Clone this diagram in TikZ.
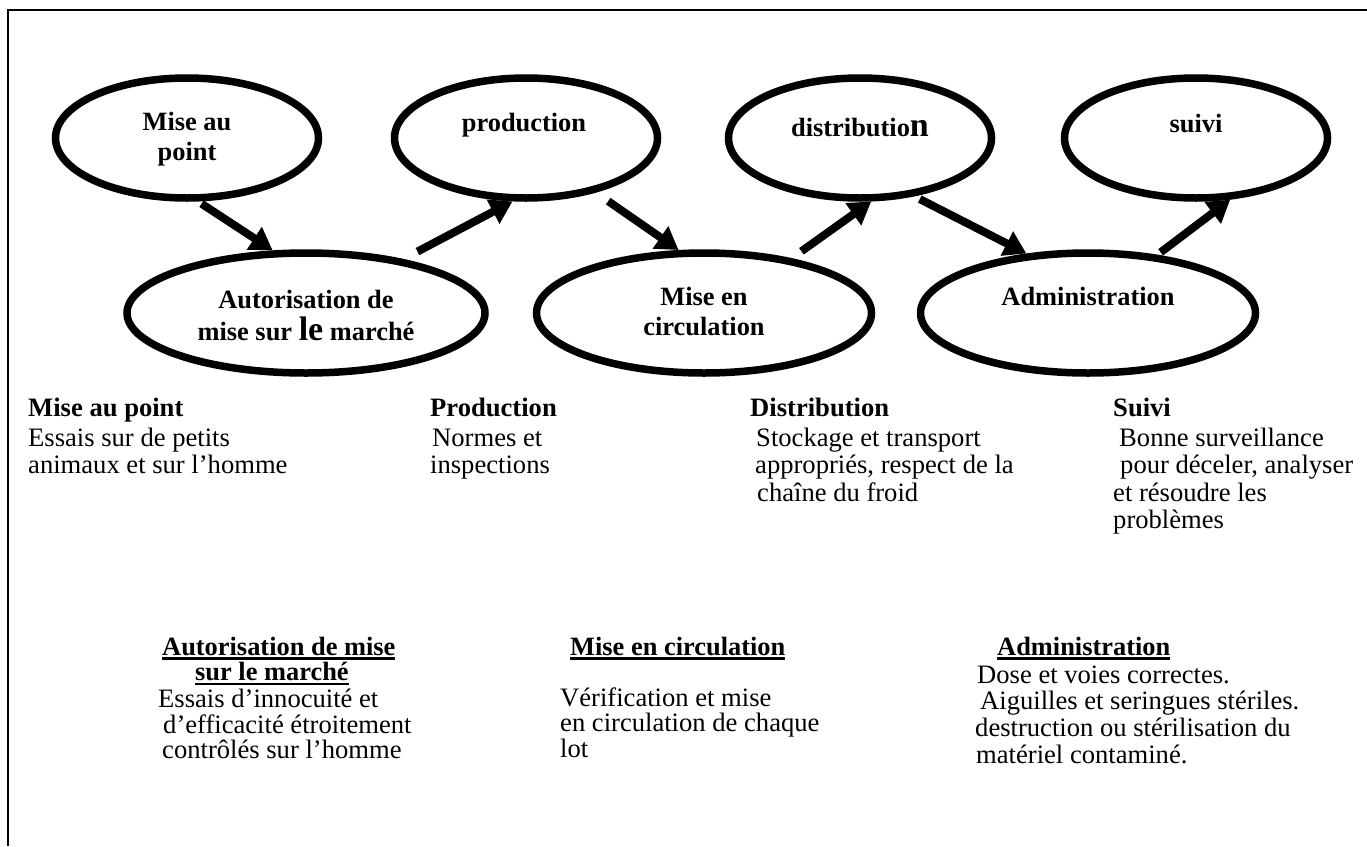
\documentclass[tikz,border=0pt]{standalone}
\usepackage{fontspec}
\setmainfont{Liberation Serif}
\usetikzlibrary{arrows.meta,shapes.geometric}
\newcommand\bodysize{\fontsize{26.6pt}{27.5pt}\selectfont}
\newcommand\ulbox[1]{\setbox0\hbox{#1}\rlap{\rule[-4.5pt]{\wd0}{2.3pt}}\box0}
\newcommand\bigchar[1]{{\fontsize{34pt}{30pt}\selectfont #1}}
\begin{document}
\begin{tikzpicture}[x=1pt,y=-1pt,
  oval/.style={draw, ellipse, line width=7.5pt, minimum height=120pt, inner sep=0pt},
  ovaltext/.style={anchor=base, inner sep=0pt, font=\bfseries\fontsize{26.4pt}{30pt}\selectfont},
  flow/.style={line width=8pt, -{Triangle[length=22pt,width=26pt]}},
  notes/.style={anchor=base west, inner sep=0pt, font=\bodysize},
  headsmall/.style={anchor=base west, inner sep=0pt, font=\fontsize{26.4pt}{24.5pt}\selectfont},
  notessmall/.style={anchor=base west, inner sep=0pt, font=\fontsize{26.6pt}{24.5pt}\selectfont},
  noteswide/.style={anchor=base west, inner sep=0pt, font=\fontsize{26.6pt}{26.7pt}\selectfont},
]
\useasboundingbox (0,0) rectangle (1367,846);

% frame (left and top edges)
\draw[line width=2.5pt] (8,846) -- (8,10) -- (1367,10);

% stages of the vaccine chain
\node[oval, minimum width=263pt] (mise)  at (187,138) {};
\node[oval, minimum width=263pt] (prod)  at (526,138) {};
\node[oval, minimum width=263pt] (dist)  at (860,138) {};
\node[oval, minimum width=263pt] (suivi) at (1196,138) {};
\node[oval, minimum width=358pt] (amm)   at (306,313) {};
\node[oval, minimum width=335pt] (circ)  at (704,313) {};
\node[oval, minimum width=335pt] (admin) at (1088,313) {};

\node[ovaltext] (tmise)  at (187,130) {\begin{tabular}[t]{@{}c@{}}Mise au\\point\end{tabular}};
\node[ovaltext] (tprod)  at (524,131) {\begin{tabular}[t]{@{}c@{}}production\end{tabular}};
\node[ovaltext] (tdist)  at (860,136) {\begin{tabular}[t]{@{}c@{}}distributio\bigchar{n}\end{tabular}};
\node[ovaltext] (tsuivi) at (1196,132) {\begin{tabular}[t]{@{}c@{}}suivi\end{tabular}};
\node[ovaltext] (tamm)   at (306,308) {\begin{tabular}[t]{@{}c@{}}Autorisation de\\mise sur \bigchar{le} marché\end{tabular}};
\node[ovaltext] (tcirc)  at (704,305) {\begin{tabular}[t]{@{}c@{}}Mise en\\circulation\end{tabular}};
\node[ovaltext] (tadmin) at (1088,305) {\begin{tabular}[t]{@{}c@{}}Administration\end{tabular}};

% zig-zag flow between the stages
\draw[flow, shorten <=4pt]  (mise.-80)  -- (amm.118);
\draw[flow, shorten <=16pt] (amm.29)    -- (prod.-102);
\draw[flow, shorten <=15pt] (prod.-38)  -- (circ.112);
\draw[flow, shorten <=12pt] (circ.32)   -- (dist.-80);
\draw[flow, shorten <=6pt]  (dist.-47)  -- (admin.136);
\draw[flow, shorten <=4pt]  (admin.40)  -- (suivi.-61);

% descriptions, first row
\node[notes] (nmise) at (28,416) {\begin{tabular}[t]{@{}l@{}}\textbf{Mise au point}\\[2.5pt]Essais sur de petits\\animaux et sur l’homme\end{tabular}};
\node[notes] (nprod) at (430,416) {\begin{tabular}[t]{@{}l@{}}\textbf{Production}\\[2.5pt]\hspace{2pt}Normes et\\inspections\end{tabular}};
\node[notes] (ndist) at (750,416) {\begin{tabular}[t]{@{}l@{}}\textbf{Distribution}\\[2.5pt]\hspace{6pt}Stockage et transport\\\hspace{5pt}appropriés, respect de la\\\hspace{7pt}chaîne du froid\end{tabular}};
\node[notes] (nsuivi) at (1113,416) {\begin{tabular}[t]{@{}l@{}}\textbf{Suivi}\\[2.5pt]\hspace{6pt}Bonne surveillance\\\hspace{7pt}pour déceler, analyser\\et résoudre les\\problèmes\end{tabular}};

% descriptions, second row
\node[headsmall] (hamm) at (162,655) {\begin{tabular}[t]{@{}l@{}}\ulbox{\textbf{Autorisation de mise}}\\\hspace{33pt}\ulbox{\textbf{sur le marché}}\end{tabular}};
\node[notessmall] (namm) at (158,707) {\begin{tabular}[t]{@{}l@{}}Essais d’innocuité et\\\hspace{5pt}d’efficacité étroitement\\\hspace{4pt}contrôlés sur l’homme\end{tabular}};

\node[headsmall] (hcirc) at (570,655) {\ulbox{\textbf{Mise en circulation}}};
\node[notessmall] (ncirc) at (560,706) {\begin{tabular}[t]{@{}l@{}}Vérification et mise\\en circulation de chaque\\lot\end{tabular}};

\node[headsmall] (hadmin) at (997,655) {\ulbox{\textbf{Administration}}};
\node[noteswide] (nadmin) at (977,683) {\begin{tabular}[t]{@{}l@{}}Dose et voies correctes.\\\hspace{3pt}Aiguilles et seringues stériles.\\\hspace{-2pt}destruction ou stérilisation du\\\hspace{-1pt}matériel contaminé.\end{tabular}};
\end{tikzpicture}
\end{document}
